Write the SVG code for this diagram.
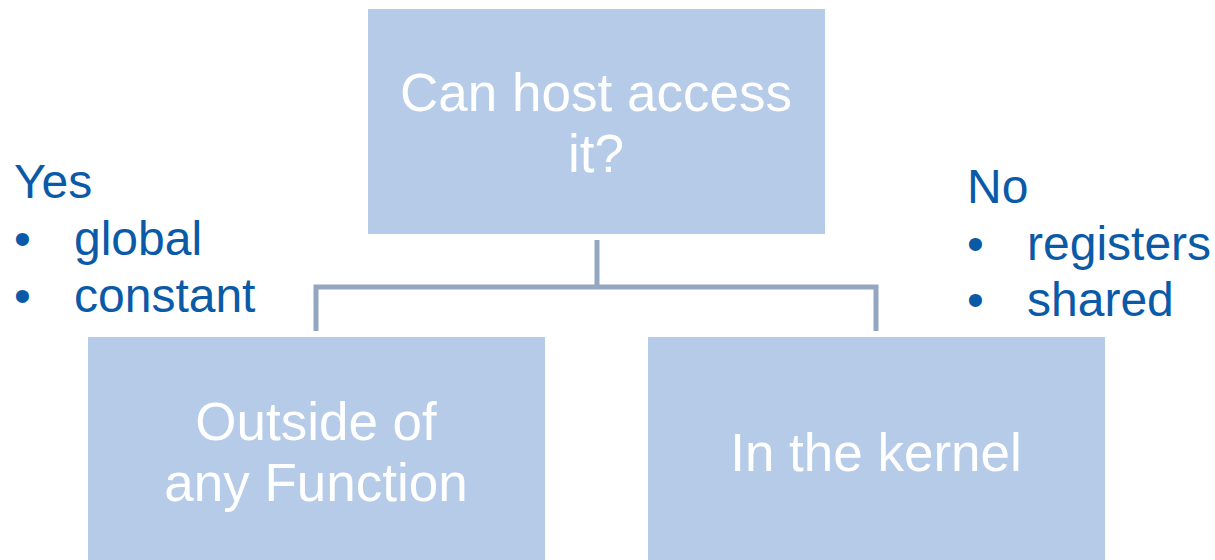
<svg xmlns="http://www.w3.org/2000/svg" width="1215" height="560" viewBox="0 0 1215 560">
  <style>
    .box { fill: #b5cbe8; }
    .boxtext { font-family: "Liberation Sans", Arial, sans-serif; font-size: 53px; fill: #ffffff; text-anchor: middle; }
    .side { font-family: "Liberation Sans", Arial, sans-serif; font-size: 48px; fill: #0a5aa8; }
    .link { fill: none; stroke: #94a7c0; stroke-width: 5; }
  </style>
  <rect width="1215" height="560" fill="#ffffff"/>

  <g id="connectors">
    <path class="link" d="M597 240 V287"/>
    <path class="link" d="M316 331 V287 H876 V331"/>
  </g>

  <g id="node-host">
    <rect class="box" x="368" y="9" width="457" height="225"/>
    <text class="boxtext" x="596" y="111">Can host access</text>
    <text class="boxtext" x="596" y="172">it?</text>
  </g>

  <g id="node-outside">
    <rect class="box" x="88" y="337" width="457" height="223"/>
    <text class="boxtext" x="316" y="440">Outside of</text>
    <text class="boxtext" x="316" y="501">any Function</text>
  </g>

  <g id="node-kernel">
    <rect class="box" x="648" y="337" width="457" height="223"/>
    <text class="boxtext" x="876" y="471">In the kernel</text>
  </g>

  <g id="label-yes">
    <text class="side" x="14" y="198">Yes</text>
    <text class="side" x="14" y="255">•</text>
    <text class="side" x="74" y="255">global</text>
    <text class="side" x="14" y="312">•</text>
    <text class="side" x="74" y="312">constant</text>
  </g>

  <g id="label-no">
    <text class="side" x="967" y="203">No</text>
    <text class="side" x="967" y="260">•</text>
    <text class="side" x="1027" y="260">registers</text>
    <text class="side" x="967" y="316">•</text>
    <text class="side" x="1027" y="316">shared</text>
  </g>
</svg>
